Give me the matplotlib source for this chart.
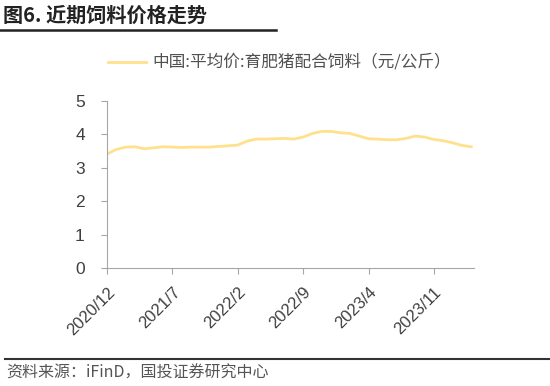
import numpy as np
import matplotlib.pyplot as plt
from matplotlib.lines import Line2D

plt.rcParams['font.family'] = ['Liberation Sans', 'Noto Sans CJK SC', 'DejaVu Sans']

# monthly feed price, 2020/12 .. 2024/3 (yuan/kg)
months = np.arange(40)
price = [3.41, 3.55, 3.62, 3.63, 3.57, 3.60, 3.63, 3.62, 3.61, 3.62,
         3.62, 3.62, 3.64, 3.66, 3.68, 3.80, 3.86, 3.86, 3.87, 3.88,
         3.86, 3.92, 4.03, 4.09, 4.09, 4.05, 4.03, 3.95, 3.87, 3.86,
         3.84, 3.84, 3.88, 3.95, 3.92, 3.85, 3.81, 3.75, 3.67, 3.63]
tick_pos = [0, 7, 14, 21, 28, 35]
tick_labels = ['2020/12', '2021/7', '2022/2', '2022/9', '2023/4', '2023/11']
series_name = '中国:平均价:育肥猪配合饲料（元/公斤）'

fig = plt.figure(figsize=(5.5, 3.86), dpi=100)
ax = fig.add_axes([0.1945, 0.3057, 0.6675, 0.4326])

ax.plot(months, price, color='#FFE08C', lw=2)
ax.set_xlim(0, 39.3)
ax.set_ylim(0, 5)
ax.set_yticks(range(6))
ax.set_xticks(tick_pos)
ax.set_xticklabels(tick_labels, rotation=45, ha='right', rotation_mode='anchor')

for s in ['top', 'right']:
    ax.spines[s].set_visible(False)
for s in ['left', 'bottom']:
    ax.spines[s].set_color('#A6A6A6')
ax.tick_params(axis='both', colors='#A6A6A6', labelcolor='#404040', length=4)
ax.tick_params(axis='y', labelsize=12.5, pad=12)
ax.tick_params(axis='x', labelsize=12, pad=8)

# legend
fig.add_artist(Line2D([108/550, 146/550], [1-62/386, 1-62/386], color='#FFE08C', lw=2))
fig.text(152/550, 1-62/386, series_name, fontsize=12, color='#505050', va='center',
         family=['Noto Sans CJK SC', 'DejaVu Sans'])

# title and footer
fig.text(3/550, 1-15/386, '图6. 近期饲料价格走势', fontsize=14.5, fontweight='bold',
         color='#222222', va='center', family=['Noto Sans CJK SC', 'DejaVu Sans'])
fig.add_artist(Line2D([0, 276/550], [1-30/386, 1-30/386], color='#222222', lw=1.8))
fig.add_artist(Line2D([5/550, 1], [1-359/386, 1-359/386], color='#333333', lw=1.5))
fig.text(6/550, 1-373/386, '资料来源：iFinD，国投证券研究中心', fontsize=11.5, color='#555555',
         va='center', style='italic', family=['Noto Sans CJK SC', 'DejaVu Sans'])

fig.savefig('out.png', dpi=100)
